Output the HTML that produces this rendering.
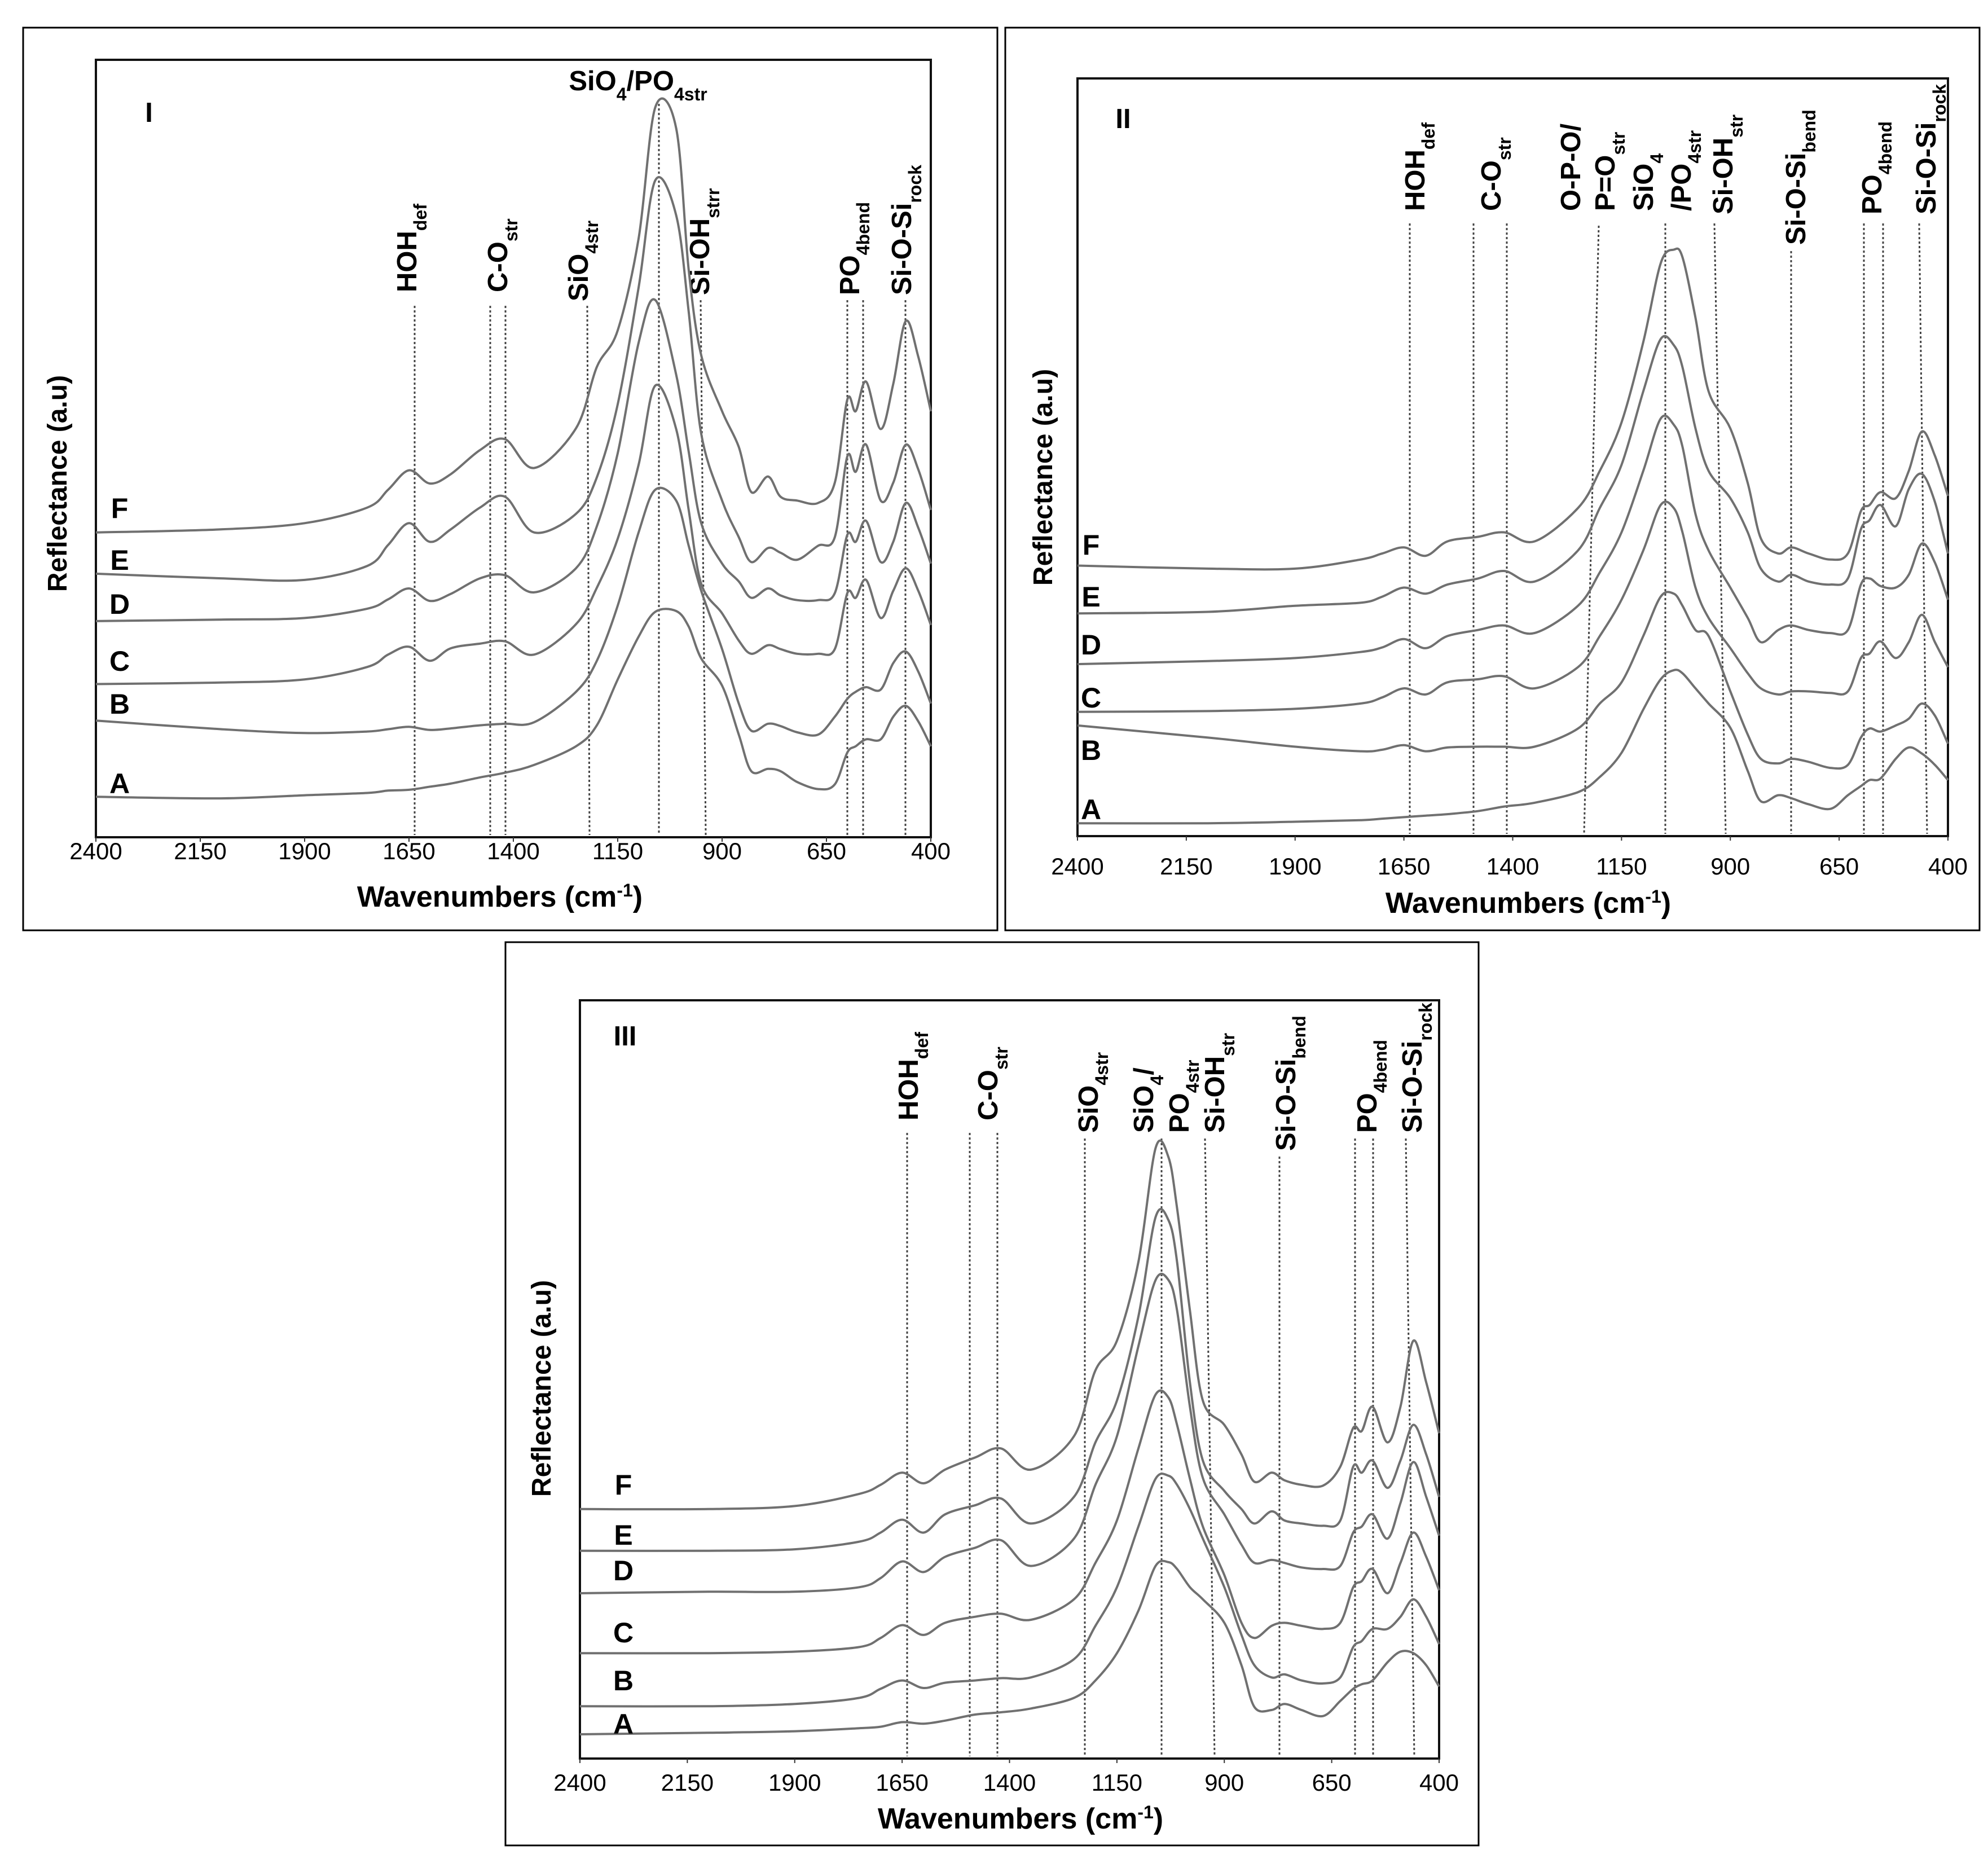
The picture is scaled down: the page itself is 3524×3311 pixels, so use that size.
<!DOCTYPE html>
<html><head><meta charset="utf-8"><style>
html,body{margin:0;padding:0;background:#fff;}
svg{display:block;font-family:"Liberation Sans",Arial,sans-serif;}
.lbl{font-size:49px;font-weight:bold;fill:#000;}
.sub{font-size:32px;}
.tick{font-size:42px;fill:#000;text-anchor:middle;}
.ttl{font-size:52px;font-weight:bold;text-anchor:middle;}
.let{font-size:50px;font-weight:bold;text-anchor:middle;}
.dot{stroke:#444;stroke-width:3;stroke-dasharray:4 4;fill:none;}
</style></head><body>
<svg id="fig" width="3524" height="3311" viewBox="0 0 3524 3311" xmlns="http://www.w3.org/2000/svg">
<rect x="0" y="0" width="3524" height="3311" fill="#fff"/>
<g>
<line class="dot" x1="735" y1="542" x2="735" y2="1480"/>
<line class="dot" x1="869" y1="542" x2="869" y2="1480"/>
<line class="dot" x1="896" y1="542" x2="896" y2="1480"/>
<line class="dot" x1="1041" y1="542" x2="1045" y2="1480"/>
<line class="dot" x1="1168" y1="184" x2="1168" y2="1480"/>
<line class="dot" x1="1242" y1="532" x2="1251" y2="1480"/>
<line class="dot" x1="1502" y1="532" x2="1502" y2="1480"/>
<line class="dot" x1="1530" y1="532" x2="1530" y2="1480"/>
<line class="dot" x1="1605" y1="532" x2="1605" y2="1480"/>
<text class="lbl" transform="translate(738,518) rotate(-90)">HOH<tspan class="sub" baseline-shift="sub">def</tspan></text>
<text class="lbl" transform="translate(899,518) rotate(-90)">C-O<tspan class="sub" baseline-shift="sub">str</tspan></text>
<text class="lbl" transform="translate(1042,534) rotate(-90)">SiO<tspan class="sub" baseline-shift="sub">4str</tspan></text>
<text class="lbl" transform="translate(1257,523) rotate(-90)">Si-OH<tspan class="sub" baseline-shift="sub">strr</tspan></text>
<text class="lbl" transform="translate(1523,523) rotate(-90)">PO<tspan class="sub" baseline-shift="sub">4bend</tspan></text>
<text class="lbl" transform="translate(1615,523) rotate(-90)">Si-O-Si<tspan class="sub" baseline-shift="sub">rock</tspan></text>
<text class="lbl" x="1131" y="160" text-anchor="middle">SiO<tspan class="sub" baseline-shift="sub">4</tspan>/PO<tspan class="sub" baseline-shift="sub">4str</tspan></text>
<text class="lbl" x="264" y="216" text-anchor="middle">I</text>
</g>
<g>
<line class="dot" x1="2499" y1="396" x2="2499" y2="1478"/>
<line class="dot" x1="2612" y1="396" x2="2612" y2="1478"/>
<line class="dot" x1="2671" y1="396" x2="2671" y2="1478"/>
<line class="dot" x1="2834" y1="400" x2="2808" y2="1478"/>
<line class="dot" x1="2952" y1="396" x2="2952" y2="1478"/>
<line class="dot" x1="3039" y1="396" x2="3059" y2="1478"/>
<line class="dot" x1="3175" y1="445" x2="3175" y2="1478"/>
<line class="dot" x1="3304" y1="396" x2="3304" y2="1478"/>
<line class="dot" x1="3338" y1="396" x2="3338" y2="1478"/>
<line class="dot" x1="3402" y1="396" x2="3416" y2="1478"/>
<text class="lbl" transform="translate(2525,374) rotate(-90)">HOH<tspan class="sub" baseline-shift="sub">def</tspan></text>
<text class="lbl" transform="translate(2660,374) rotate(-90)">C-O<tspan class="sub" baseline-shift="sub">str</tspan></text>
<text class="lbl" transform="translate(2801,374) rotate(-90)">O-P-O/</text>
<text class="lbl" transform="translate(2862,374) rotate(-90)">P=O<tspan class="sub" baseline-shift="sub">str</tspan></text>
<text class="lbl" transform="translate(2930,374) rotate(-90)">SiO<tspan class="sub" baseline-shift="sub">4</tspan></text>
<text class="lbl" transform="translate(2997,374) rotate(-90)">/PO<tspan class="sub" baseline-shift="sub">4str</tspan></text>
<text class="lbl" transform="translate(3071,380) rotate(-90)">Si-OH<tspan class="sub" baseline-shift="sub">str</tspan></text>
<text class="lbl" transform="translate(3200,434) rotate(-90)">Si-O-Si<tspan class="sub" baseline-shift="sub">bend</tspan></text>
<text class="lbl" transform="translate(3335,380) rotate(-90)">PO<tspan class="sub" baseline-shift="sub">4bend</tspan></text>
<text class="lbl" transform="translate(3431,380) rotate(-90)">Si-O-Si<tspan class="sub" baseline-shift="sub">rock</tspan></text>
<text class="lbl" x="1991" y="227" text-anchor="middle">II</text>
</g>
<g>
<line class="dot" x1="1608" y1="2008" x2="1608" y2="3113"/>
<line class="dot" x1="1719" y1="2008" x2="1719" y2="3113"/>
<line class="dot" x1="1768" y1="2008" x2="1768" y2="3113"/>
<line class="dot" x1="1923" y1="2018" x2="1923" y2="3113"/>
<line class="dot" x1="2059" y1="2018" x2="2059" y2="3113"/>
<line class="dot" x1="2136" y1="2018" x2="2153" y2="3113"/>
<line class="dot" x1="2268" y1="2050" x2="2268" y2="3113"/>
<line class="dot" x1="2402" y1="2018" x2="2402" y2="3113"/>
<line class="dot" x1="2434" y1="2018" x2="2434" y2="3113"/>
<line class="dot" x1="2492" y1="2018" x2="2507" y2="3113"/>
<text class="lbl" transform="translate(1627,1986) rotate(-90)">HOH<tspan class="sub" baseline-shift="sub">def</tspan></text>
<text class="lbl" transform="translate(1768,1986) rotate(-90)">C-O<tspan class="sub" baseline-shift="sub">str</tspan></text>
<text class="lbl" transform="translate(1946,2008) rotate(-90)">SiO<tspan class="sub" baseline-shift="sub">4str</tspan></text>
<text class="lbl" transform="translate(2044,2008) rotate(-90)">SiO<tspan class="sub" baseline-shift="sub">4</tspan>/</text>
<text class="lbl" transform="translate(2107,2008) rotate(-90)">PO<tspan class="sub" baseline-shift="sub">4str</tspan></text>
<text class="lbl" transform="translate(2170,2008) rotate(-90)">Si-OH<tspan class="sub" baseline-shift="sub">str</tspan></text>
<text class="lbl" transform="translate(2296,2040) rotate(-90)">Si-O-Si<tspan class="sub" baseline-shift="sub">bend</tspan></text>
<text class="lbl" transform="translate(2440,2008) rotate(-90)">PO<tspan class="sub" baseline-shift="sub">4bend</tspan></text>
<text class="lbl" transform="translate(2520,2008) rotate(-90)">Si-O-Si<tspan class="sub" baseline-shift="sub">rock</tspan></text>
<text class="lbl" x="1108" y="1853" text-anchor="middle">III</text>
</g>
</svg>
<script>
const wnI = [2400,2100,1900,1750,1700,1650,1600,1550,1480,1420,1350,1250,1200,1150,1100,1060,1010,980,950,900,860,830,790,760,720,670,630,600,580,555,520,490,460,430,400];
const p1_A = [5.2,5.0,5.4,5.7,6.0,6.1,6.5,6.9,7.7,8.3,9.3,11.7,14.4,20.3,25.8,29.0,29.1,27.1,23.0,19.5,13.2,8.5,8.8,8.5,7.1,6.2,6.8,10.9,11.7,12.6,12.6,15.5,16.9,14.9,11.7];
const p1_B = [15.0,13.9,13.4,13.6,13.9,14.2,13.8,14.0,14.4,14.6,14.8,18.7,22.7,29.8,39.2,44.7,43.3,37.5,31.7,24.2,17.2,13.7,14.6,14.3,13.5,13.2,15.5,17.8,18.7,19.3,19.0,22.4,23.9,21.3,17.2];
const p1_C = [19.7,19.9,20.3,21.9,23.5,24.5,22.7,24.3,24.9,25.2,23.5,27.4,32.1,38.4,47.9,58.1,52.5,42.1,32.6,28.8,25.3,23.6,24.7,24.2,23.6,23.6,24.2,31.4,30.8,33.1,28.2,31.7,34.6,31.7,27.3];
const p1_D = [27.8,28.0,28.2,29.4,30.6,32.0,30.4,31.3,33.3,33.7,31.5,34.6,40.0,49.4,63.6,69.1,59.5,49.6,40.4,35.2,32.9,30.8,32.0,31.1,30.5,30.5,31.4,38.9,38.0,40.7,35.4,38.0,43.0,39.8,35.2];
const p1_E = [33.9,33.3,33.1,34.9,37.6,40.4,38.0,39.6,42.4,43.8,39.2,41.6,46.3,55.7,70.7,84.5,80.0,67.6,51.9,43.3,38.6,35.4,37.2,36.6,35.7,37.5,38.6,49.0,47.0,50.5,43.3,45.6,50.5,47.3,42.1];
const p1_F = [39.2,39.6,40.4,42.4,44.7,47.2,45.5,46.7,49.8,51.2,47.5,52.6,60.5,65.2,77.0,93.9,91.2,73.0,62.0,54.8,50.2,44.4,46.4,43.8,43.3,43.0,45.6,56.3,54.8,58.6,52.5,58.3,66.4,61.8,54.8];

const wnII = [2400,2100,1900,1750,1700,1650,1600,1550,1480,1420,1350,1250,1200,1150,1100,1060,1030,1010,980,950,900,860,830,790,760,720,670,630,600,580,555,520,490,460,430,400];
const p2_A = [1.7,1.7,1.9,2.1,2.3,2.5,2.7,2.9,3.3,3.9,4.4,5.8,7.8,11.0,16.7,20.7,21.9,21.5,19.5,17.5,14.3,8.6,4.6,5.4,5.0,4.2,3.6,5.4,6.6,7.4,7.6,10.2,11.7,10.9,9.4,7.4];
const p2_B = [14.6,13.0,11.8,11.2,11.4,12.0,11.2,11.7,11.8,11.8,11.8,14.2,17.5,20.3,26.4,31.6,32.0,30.4,27.2,26.4,19.1,13.4,10.2,9.6,10.2,9.8,9.0,9.4,13.0,14.2,13.8,14.6,15.5,17.5,15.9,12.2];
const p2_C = [16.4,16.5,16.8,17.5,18.3,19.5,18.7,20.3,20.7,21.1,19.5,22.3,26.4,31.2,37.7,43.7,43.3,40.1,32.8,28.8,24.8,21.5,19.5,18.7,19.1,19.1,18.9,19.1,23.5,24.1,25.7,23.5,25.6,29.2,25.6,22.3];
const p2_D = [22.7,23.1,23.5,24.3,24.9,26.0,24.8,26.4,27.2,27.8,26.8,30.4,34.8,40.1,48.2,55.1,54.3,51.4,42.5,37.7,32.8,28.8,25.6,27.2,27.8,27.2,26.8,27.2,33.2,34.0,33.0,32.8,34.5,38.6,36.1,31.2];
const p2_E = [29.4,29.6,30.4,30.8,31.6,32.8,32.0,33.2,34.0,35.0,33.6,37.7,43.3,49.0,58.7,65.6,64.8,61.9,53.8,48.2,44.6,40.1,35.3,33.6,34.5,33.6,33.2,34.0,40.5,41.7,43.7,40.9,45.8,47.8,44.1,37.3];
const p2_F = [35.7,35.3,35.3,36.5,37.3,38.1,37.0,38.9,39.5,40.1,38.9,43.3,48.2,54.6,65.2,75.6,77.4,76.4,68.4,58.7,53.8,46.6,39.3,37.3,38.1,37.3,36.5,37.3,42.9,43.7,45.4,44.6,48.2,53.4,50.2,44.9];

const wnIII = [2400,2100,1900,1750,1700,1650,1600,1550,1480,1420,1350,1250,1200,1150,1100,1060,1030,1010,980,950,900,860,830,790,760,720,670,630,600,580,555,520,490,460,430,400];
const p3_A = [3.2,3.4,3.6,4.0,4.2,4.8,4.6,5.0,5.8,6.1,6.6,8.0,10.3,13.9,19.5,25.4,25.9,25.0,22.6,21.0,17.9,12.3,6.8,6.4,7.2,6.4,5.6,7.6,9.2,9.8,10.3,12.7,14.1,13.9,12.3,9.5];
const p3_B = [6.9,6.9,7.2,8.0,9.2,10.3,9.3,10.0,10.3,10.6,10.7,13.1,17.5,22.6,30.6,36.9,37.3,36.1,32.9,29.0,22.6,16.3,12.3,10.7,11.1,10.3,9.9,10.7,14.7,15.5,17.1,17.1,18.7,21.0,18.7,15.1];
const p3_C = [13.9,13.9,14.1,14.7,15.9,17.6,16.3,17.9,18.7,19.1,18.3,21.0,25.8,31.4,40.9,48.0,47.6,44.0,36.9,30.6,24.2,17.9,15.9,17.5,17.9,17.5,17.1,17.9,22.6,23.4,25.0,21.8,25.8,29.8,26.6,22.2];
const p3_D = [21.8,22.0,22.0,22.6,23.8,26.0,24.6,26.6,27.8,28.8,25.4,29.0,36.1,42.5,54.4,63.1,63.1,59.1,46.4,37.0,32.2,28.2,25.8,26.2,25.8,25.2,25.0,25.4,29.8,30.6,32.2,29.0,33.7,39.1,34.5,29.4];
const p3_E = [27.4,27.4,27.6,28.6,29.8,31.5,29.8,32.2,33.4,34.3,31.0,34.5,41.7,47.2,58.3,71.4,71.0,65.5,49.6,39.3,35.3,32.9,31.0,32.6,31.4,31.0,30.7,31.4,38.5,37.7,39.3,35.7,39.3,44.0,40.1,34.5];
const p3_F = [32.9,32.9,33.3,34.9,36.1,37.7,36.3,38.1,39.7,40.9,38.1,42.5,51.2,55.1,65.5,80.5,79.3,72.6,59.1,47.2,44.0,40.1,36.5,37.7,36.7,36.1,36.0,38.5,43.6,43.2,46.4,41.7,46.4,55.1,49.6,42.9];

const xTicks = [2400,2150,1900,1650,1400,1150,900,650,400];
const seriesNames = ["A","B","C","D","E","F"];

const NS = "http://www.w3.org/2000/svg";
const svg = document.getElementById("fig");
function mk(tag, attrs, parent){
  const e = document.createElementNS(NS, tag);
  for (const k in attrs) e.setAttribute(k, attrs[k]);
  (parent || svg).appendChild(e);
  return e;
}
function smoothPath(pts){
  let d = "M" + pts[0][0].toFixed(1) + "," + pts[0][1].toFixed(1);
  for (let i = 0; i < pts.length - 1; i++){
    const p0 = pts[Math.max(i-1,0)], p1 = pts[i], p2 = pts[i+1], p3 = pts[Math.min(i+2, pts.length-1)];
    const c1x = p1[0] + (p2[0]-p0[0])/6, c1y = p1[1] + (p2[1]-p0[1])/6;
    const c2x = p2[0] - (p3[0]-p1[0])/6, c2y = p2[1] - (p3[1]-p1[1])/6;
    d += " C" + c1x.toFixed(1) + "," + c1y.toFixed(1) + " " + c2x.toFixed(1) + "," + c2y.toFixed(1) + " " + p2[0].toFixed(1) + "," + p2[1].toFixed(1);
  }
  return d;
}
const panels = [
  {id:"i", outer:[41,49,1768,1649], plot:[170,1650,106,1484], wn:wnI, series:[p1_A,p1_B,p1_C,p1_D,p1_E,p1_F],
   tickY:1523, titleX:886, titleY:1607, yTitleX:101, yTitleY:857, letterX:212, letterY:[1388,1247,1171,1070,992,900]},
  {id:"ii", outer:[1782,49,3509,1649], plot:[1910,3453,139,1482], wn:wnII, series:[p2_A,p2_B,p2_C,p2_D,p2_E,p2_F],
   tickY:1550, titleX:2709, titleY:1618, yTitleX:1848, yTitleY:846, letterX:1934, letterY:[1434,1329,1236,1142,1057,965]},
  {id:"iii", outer:[896,1670,2621,3271], plot:[1028,2551,1773,3117], wn:wnIII, series:[p3_A,p3_B,p3_C,p3_D,p3_E,p3_F],
   tickY:3174, titleX:1809, titleY:3241, yTitleX:959, yTitleY:2461, letterX:1105, letterY:[3055,2978,2893,2783,2720,2631]}
];
panels.forEach(function(P){
  const [x0,x1,y0,y1] = P.plot;
  const xs = function(w){ return x0 + (2400 - w) / 2000 * (x1 - x0); };
  const ys = function(v){ return y1 - v / 100 * (y1 - y0); };
  const g = mk("g", {});
  
  
  const o = mk("rect", {x:P.outer[0], y:P.outer[1], width:P.outer[2]-P.outer[0], height:P.outer[3]-P.outer[1], fill:"none", stroke:"#000", "stroke-width":3}, g);
  
  
  const pb = mk("rect", {x:x0, y:y0, width:x1-x0, height:y1-y0, fill:"none", stroke:"#111", "stroke-width":4}, g);
  
  
  xTicks.forEach(function(t){
    const tl = mk("text", {x:xs(t), y:P.tickY, class:"tick"}, g);
    tl.textContent = String(t);
    
    
    const tm = mk("line", {x1:xs(t), x2:xs(t), y1:y1, y2:y1+8, stroke:"#333", "stroke-width":2}, g);
    
    
  });
  const tt = mk("text", {x:P.titleX, y:P.titleY, class:"ttl"}, g);
  tt.innerHTML = 'Wavenumbers (cm<tspan font-size="32" baseline-shift="super">-1</tspan>)';
  
  
  const yt = mk("text", {transform:"translate(" + (P.yTitleX+17) + "," + P.yTitleY + ") rotate(-90)", class:"ttl", style:"font-size:48px"}, g);
  yt.textContent = "Reflectance (a.u)";
  
  
  P.series.forEach(function(vals, si){
    const pts = P.wn.map(function(w, i){ return [xs(w), ys(vals[i])]; });
    const path = mk("path", {d:smoothPath(pts), fill:"none", stroke:"#707070", "stroke-width":4, "stroke-linejoin":"round"}, g);
    
    
    const lt = mk("text", {x:P.letterX, y:P.letterY[si] + 18, class:"let"}, g);
    lt.textContent = seriesNames[si];
    
    
  });
});
</script>
</body></html>
